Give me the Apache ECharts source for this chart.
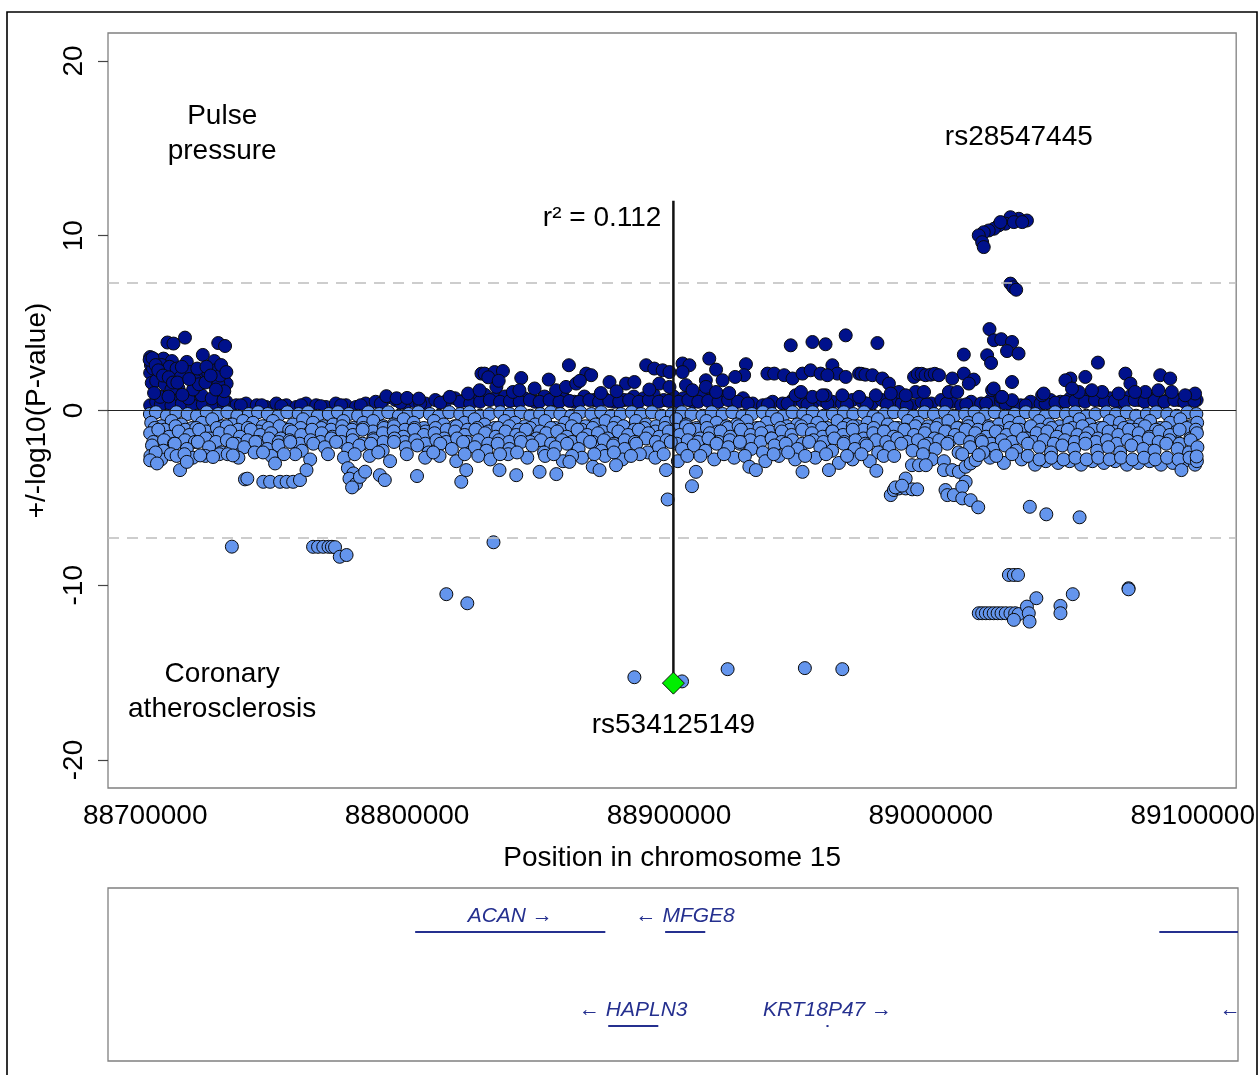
<!DOCTYPE html>
<html><head><meta charset="utf-8">
<script src="https://cdn.jsdelivr.net/npm/echarts@6/dist/echarts.min.js"></script>
<style>html,body{margin:0;padding:0;background:#fff}#c{width:1258px;height:1075px}</style>
</head><body><div id="c"></div>
<script>
// ---------- DATA ----------
// Positions are given in kb from 88,700,000 on chromosome 15, paired with +/-log10(P)
const BASE_BP = 88700000;
const xTickValues = [88700000, 88800000, 88900000, 89000000, 89100000];
const yTickValues = [-20, -10, 0, 10, 20];
const sigLevel = 7.3;

// Pulse pressure (positive side), dense strip just above 0
const pulseBand = [
1.9,0.3, 4.2,0.5, 7.9,0.4, 12.1,0.6, 15.8,0.3, 19.6,0.5, 23.4,0.4, 27.3,0.6, 31.0,0.5, 34.8,0.3,
38.5,0.4, 42.6,0.3, 46.2,0.2, 50.1,0.4, 53.9,0.3, 57.7,0.2, 61.4,0.4, 65.3,0.3, 69.0,0.2, 72.8,0.4,
76.7,0.3, 80.5,0.2, 84.2,0.4, 88.0,0.5, 91.9,0.7, 95.6,0.6, 99.4,0.4, 103.1,0.5, 107.0,0.4, 110.8,0.6,
114.6,0.5, 118.3,0.7, 122.2,0.6, 126.0,0.8, 129.7,0.9, 133.5,0.7, 137.4,0.8, 141.1,0.6, 144.9,0.7, 148.8,0.5,
152.5,0.8, 156.3,0.6, 160.0,0.7, 163.9,0.5, 167.7,0.8, 171.4,0.6, 175.2,0.7, 179.1,0.5, 182.9,0.6, 186.6,0.8,
190.4,0.7, 194.2,0.9, 198.0,0.6, 201.8,0.8, 205.5,0.7, 209.3,0.5, 213.1,0.9, 217.0,0.6, 220.7,0.8, 224.5,0.5,
228.3,0.7, 232.0,0.4, 235.9,0.3, 239.6,0.5, 243.4,0.4, 247.3,0.6, 251.0,0.5, 254.8,0.4, 258.6,0.6, 262.4,0.5,
266.1,0.4, 270.0,0.6, 273.8,0.5, 277.5,0.4, 281.3,0.6, 285.1,0.5, 288.9,0.4, 292.7,0.3, 296.5,0.5, 300.2,0.4,
304.0,0.6, 307.9,0.5, 311.6,0.3, 315.4,0.5, 319.2,0.4, 323.0,0.6, 326.8,0.5, 330.5,0.4, 334.3,0.3, 338.1,0.5,
341.9,0.4, 345.7,0.6, 349.5,0.5, 353.2,0.7, 357.0,0.6, 360.8,0.8, 364.6,0.6, 368.4,0.7, 372.2,0.5, 376.0,0.8,
379.7,0.6, 383.5,0.7, 387.3,0.5, 391.1,0.7, 394.9,0.6, 398.7,0.8, 401.5,0.6
];
const pulseBand2 = [
6.0,0.35, 10.0,0.3, 14.0,0.4, 18.0,0.3, 22.0,0.35, 26.0,0.3, 30.0,0.4, 36.5,0.3, 44.5,0.3, 52.0,0.25,
59.5,0.3, 67.0,0.25, 74.8,0.3, 82.3,0.3, 90.0,0.4, 97.5,0.45, 105.0,0.4, 112.7,0.45, 120.2,0.5, 124.1,0.4,
127.9,0.5, 131.6,0.6, 135.5,0.5, 139.3,0.55, 143.0,0.5, 146.9,0.6, 150.6,0.5, 154.4,0.6, 158.2,0.5, 162.0,0.55,
165.8,0.5, 169.6,0.6, 173.3,0.5, 177.2,0.55, 181.0,0.5, 184.8,0.6, 188.5,0.5, 192.3,0.6, 196.1,0.5, 199.9,0.55,
203.7,0.5, 207.4,0.6, 211.2,0.5, 215.0,0.55, 218.9,0.5, 222.6,0.6, 226.4,0.5, 230.1,0.4, 237.8,0.35, 245.3,0.4,
252.9,0.35, 260.5,0.4, 268.0,0.35, 275.6,0.4, 283.2,0.35, 290.8,0.3, 298.4,0.35, 306.0,0.4, 313.5,0.35, 321.1,0.4,
328.6,0.35, 336.2,0.3, 343.8,0.4, 347.6,0.45, 351.4,0.5, 355.1,0.55, 358.9,0.5, 362.7,0.6, 366.5,0.5, 370.3,0.55,
374.1,0.5, 377.9,0.6, 381.6,0.5, 385.4,0.55, 389.2,0.5, 393.0,0.6, 396.8,0.5, 400.6,0.55
];

// Pulse pressure, points standing out above the strip
const pulseHits = [
15.2,4.17, 8.5,3.89, 10.8,3.83, 27.9,3.86, 30.5,3.69,
1.9,3.06, 3.8,2.91, 7.0,2.97, 10.2,2.83, 15.9,2.78, 22.0,3.18, 26.4,2.83,
1.9,2.15, 5.7,2.11, 8.3,2.2, 11.4,2.11, 2.5,1.58, 17.2,2.2, 21.6,2.11, 24.1,2.11,
19.1,1.73, 25.4,1.73, 29.9,1.83, 31.1,1.54, 27.9,1.54,
5.7,0.78, 12.7,1.26, 16.5,0.69, 21.6,0.87, 25.4,0.69, 29.9,0.59,
2.2,2.6, 3.0,2.4, 6.3,2.6, 9.3,2.5, 12.0,2.4, 13.5,1.9, 4.2,1.7, 7.5,1.5, 10.0,1.2,
18.3,1.2, 20.5,1.5, 23.0,1.6, 26.8,2.3, 28.6,2.0, 30.2,1.1, 14.2,0.9, 8.9,0.8, 3.4,1.0,
1.7,2.9, 2.8,3.0, 4.0,2.6, 5.0,2.3, 6.8,2.0, 9.0,1.9, 10.6,1.6, 12.3,1.6, 14.0,2.5, 16.8,1.8,
19.9,2.4, 23.4,2.5, 25.0,2.0, 27.0,1.2, 29.0,2.6, 31.0,2.2,
92.1,0.82, 96.0,0.7, 100.0,0.72, 104.5,0.68,
116.3,0.78, 123.3,0.97, 127.7,1.16, 134.1,1.35, 140.4,1.06,
128.4,2.11, 129.6,2.11, 133.4,2.2, 136.6,2.26, 131.0,1.9, 135.0,1.7,
143.6,1.86, 142.9,1.16, 148.7,1.26, 154.1,1.77, 156.9,1.16, 160.7,1.35, 164.6,1.54,
161.8,2.59, 168.4,2.11, 170.3,2.02, 166.0,1.7,
177.3,1.63, 183.6,1.54, 186.8,1.63, 180.0,1.1, 174.0,1.0,
191.3,2.59, 194.4,2.4, 197.6,2.3, 200.2,2.2, 196.3,1.54, 200.2,1.35, 192.5,1.2,
205.2,2.69, 207.8,2.59, 205.2,2.2, 206.5,1.45, 209.0,1.16,
215.4,2.97, 218.0,2.34, 214.1,1.73, 220.5,1.73, 214.1,1.35, 218.0,1.06,
229.4,2.65, 228.7,2.02, 225.3,1.92, 223.0,1.0,
237.6,2.11, 240.2,2.11, 244.0,2.02, 247.2,1.83, 251.0,2.11, 254.1,2.3, 257.9,2.11, 262.4,2.59, 264.3,2.11, 267.5,1.92, 260.5,2.02,
246.5,3.73, 254.8,3.92, 259.8,3.79, 267.5,4.3, 279.6,3.86,
248.4,0.87, 254.8,0.78, 259.8,0.87,
272.6,2.11, 273.5,2.1, 275.0,2.05, 277.7,2.02, 281.5,1.83, 284.0,1.54, 287.8,1.06, 294.2,1.06, 297.4,1.06,
293.6,1.92, 295.0,2.1, 296.5,2.1, 298.0,2.02, 300.0,2.05, 301.5,2.1, 303.1,2.02, 308.2,1.83, 312.6,2.11, 316.4,1.77, 314.5,1.54,
312.6,3.2,
250.4,1.06, 258.6,0.87, 266.2,0.87, 272.6,0.78, 279.0,0.87, 284.7,0.97, 290.4,0.87,
306.9,1.06, 310.1,1.06, 323.4,1.16, 326.6,0.78, 331.0,0.59, 342.5,0.87,
336.7,10.87, 333.6,10.97, 330.4,11.06, 328.5,10.69, 325.9,10.59, 324.1,10.4, 322.1,10.3, 320.2,10.2,
318.3,10.02, 319.6,9.63, 320.2,9.35, 326.6,10.78, 331.7,10.78, 334.9,10.78,
330.4,7.26, 331.5,7.05, 332.6,6.91,
322.4,4.66, 324.1,4.02, 326.9,4.08, 331.0,3.92, 329.1,3.4, 333.5,3.26, 321.5,3.16, 323.0,2.72,
331.0,1.63, 324.0,1.26, 327.2,0.78, 343.1,0.97,
353.3,1.83, 359.0,1.92, 351.4,1.73, 363.8,2.74, 374.3,2.11, 376.2,1.54, 387.6,2.02, 391.4,1.83,
400.9,0.97, 397.1,0.87, 392.0,1.06, 386.9,1.16, 381.9,1.06, 378.0,1.06, 371.7,0.97, 365.4,1.06, 361.5,1.16, 356.5,1.06, 353.9,1.26
];

// Coronary atherosclerosis (negative side), dense band below 0
const coronaryBandTop = [
1.8,-0.2, 4.1,-0.1, 8.3,-0.3, 11.9,-0.1, 16.2,-0.2, 19.8,-0.3, 23.5,-0.1, 27.9,-0.2, 31.4,-0.1, 35.2,-0.3,
39.6,-0.2, 43.1,-0.1, 46.8,-0.2, 50.9,-0.3, 54.3,-0.1, 58.6,-0.2, 62.2,-0.1, 65.9,-0.3, 70.1,-0.2, 73.6,-0.1,
77.8,-0.2, 81.3,-0.3, 85.2,-0.1, 89.4,-0.2, 92.8,-0.1, 96.9,-0.3, 100.6,-0.2, 104.3,-0.1, 108.7,-0.2, 112.2,-0.3,
116.1,-0.1, 120.3,-0.2, 123.8,-0.1, 127.9,-0.3, 131.5,-0.2, 135.6,-0.1, 139.2,-0.2, 143.4,-0.1, 147.1,-0.3, 150.8,-0.2,
154.9,-0.1, 158.5,-0.2, 162.7,-0.3, 166.2,-0.1, 170.4,-0.2, 174.1,-0.1, 177.9,-0.3, 181.6,-0.2, 185.8,-0.1, 189.3,-0.2,
193.5,-0.1, 197.2,-0.3, 201.1,-0.2, 204.9,-0.1, 208.6,-0.2, 212.8,-0.3, 216.3,-0.1, 220.5,-0.2, 224.2,-0.1, 228.1,-0.3,
231.7,-0.2, 235.9,-0.1, 239.4,-0.2, 243.6,-0.3, 247.2,-0.1, 251.3,-0.2, 254.9,-0.1, 259.1,-0.3, 262.6,-0.2, 266.8,-0.1,
270.4,-0.2, 274.5,-0.1, 278.1,-0.3, 282.3,-0.2, 285.9,-0.1, 289.8,-0.2, 293.5,-0.3, 297.6,-0.1, 301.2,-0.2, 305.4,-0.1,
308.9,-0.3, 313.1,-0.2, 316.7,-0.1, 320.8,-0.2, 324.4,-0.1, 328.5,-0.3, 332.1,-0.2, 336.3,-0.1, 339.9,-0.2, 343.8,-0.3,
347.5,-0.1, 351.6,-0.2, 355.2,-0.1, 359.4,-0.3, 362.9,-0.2, 367.1,-0.1, 370.7,-0.2, 374.8,-0.1, 378.4,-0.3, 382.5,-0.2,
386.1,-0.1, 390.3,-0.2, 393.9,-0.3, 398.0,-0.1, 401.4,-0.2
];
const coronaryBandMid = [
2.3,-0.7, 6.2,-0.9, 10.1,-0.6, 13.8,-0.8, 18.0,-1.0, 21.7,-0.7, 25.6,-0.5, 29.5,-0.9, 33.3,-0.8, 37.4,-0.6,
41.2,-0.7, 44.9,-0.9, 48.8,-0.6, 52.6,-1.0, 56.4,-0.8, 60.3,-0.5, 64.1,-0.7, 68.0,-0.9, 71.8,-0.8, 75.7,-0.6,
79.5,-1.0, 83.3,-0.7, 87.1,-0.6, 91.0,-0.9, 94.9,-0.8, 98.7,-0.5, 102.5,-0.7, 106.4,-1.0, 110.3,-0.6, 114.0,-0.8,
118.1,-0.9, 121.9,-0.7, 125.8,-0.5, 129.6,-0.8, 133.4,-1.0, 137.3,-0.6, 141.2,-0.7, 145.0,-0.9, 148.9,-0.8, 152.7,-0.6,
156.6,-1.0, 160.4,-0.7, 164.3,-0.5, 168.1,-0.9, 172.0,-0.8, 175.8,-0.6, 179.7,-0.7, 183.5,-1.0, 187.4,-0.6, 191.2,-0.8,
195.1,-0.9, 198.9,-0.7, 202.8,-0.5, 206.6,-0.8, 210.5,-1.0, 214.3,-0.6, 218.2,-0.7, 222.0,-0.9, 225.9,-0.8, 229.7,-0.6,
233.6,-1.0, 237.4,-0.7, 241.3,-0.5, 245.1,-0.9, 249.0,-0.8, 252.8,-0.6, 256.7,-0.7, 260.5,-1.0, 264.4,-0.6, 268.2,-0.8,
272.1,-0.9, 275.9,-0.7, 279.8,-0.5, 283.6,-0.8, 287.5,-1.0, 291.3,-0.6, 295.2,-0.7, 299.0,-0.9, 302.9,-0.8, 306.7,-0.6,
310.6,-1.0, 314.4,-0.7, 318.3,-0.5, 322.1,-0.9, 326.0,-0.8, 329.8,-0.6, 333.7,-0.7, 337.5,-1.0, 341.4,-0.6, 345.2,-0.8,
349.1,-0.9, 352.9,-0.7, 356.8,-0.5, 360.6,-0.8, 364.5,-1.0, 368.3,-0.6, 372.2,-0.7, 376.0,-0.9, 379.9,-0.8, 383.7,-0.6,
387.6,-1.0, 391.4,-0.7, 395.3,-0.5, 399.1,-0.9, 401.7,-0.7
];
const coronaryBandFill1 = [
3.6,-1.0, 7.4,-1.1, 11.6,-0.9, 15.3,-1.1, 19.5,-1.0, 23.2,-1.2, 27.4,-1.0, 31.1,-0.9, 35.5,-1.1, 39.2,-1.0,
43.4,-1.2, 47.1,-1.0, 51.3,-0.9, 55.0,-1.1, 59.4,-1.0, 63.1,-1.2, 67.3,-1.0, 71.0,-1.1, 75.2,-0.9, 79.0,-1.1,
83.3,-1.0, 87.0,-1.2, 91.2,-1.0, 95.0,-0.9, 99.2,-1.1, 102.9,-1.0, 107.1,-1.2, 110.9,-1.0, 115.1,-1.1, 118.9,-0.9,
123.1,-1.1, 126.8,-1.0, 131.0,-1.2, 134.8,-1.0, 139.0,-0.9, 142.8,-1.1, 147.0,-1.0, 150.7,-1.2, 154.9,-1.0, 158.7,-1.1,
162.9,-0.9, 166.7,-1.1, 170.9,-1.0, 174.6,-1.2, 178.8,-1.0, 182.6,-0.9, 186.8,-1.1, 190.6,-1.0, 194.8,-1.2, 198.5,-1.0,
202.7,-1.1, 206.5,-0.9, 210.7,-1.1, 214.5,-1.0, 218.7,-1.2, 222.4,-1.0, 226.6,-0.9, 230.4,-1.1, 234.6,-1.0, 238.4,-1.2,
242.6,-1.0, 246.3,-1.1, 250.5,-0.9, 254.3,-1.1, 258.5,-1.0, 262.3,-1.2, 266.5,-1.0, 270.2,-0.9, 274.4,-1.1, 278.2,-1.0,
282.4,-1.2, 286.2,-1.0, 290.4,-1.1, 294.1,-0.9, 298.3,-1.1, 302.1,-1.0, 306.3,-1.2, 310.1,-1.0, 314.3,-0.9, 318.0,-1.1,
322.2,-1.0, 326.0,-1.2, 330.2,-1.0, 334.0,-1.1, 338.2,-0.9, 341.9,-1.1, 346.1,-1.0, 349.9,-1.2, 354.1,-1.0, 357.9,-0.9,
362.1,-1.1, 365.8,-1.0, 370.0,-1.2, 373.8,-1.0, 378.0,-1.1, 381.8,-0.9, 386.0,-1.1, 389.7,-1.0, 393.9,-1.2, 397.7,-1.0,
401.2,-1.1
];
const coronaryBandLow = [
1.9,-1.3, 5.0,-1.1, 9.1,-1.5, 12.8,-1.2, 16.9,-1.4, 20.6,-1.1, 24.7,-1.6, 28.4,-1.3, 32.5,-1.2, 36.2,-1.5,
40.3,-1.1, 44.0,-1.4, 48.1,-1.3, 51.8,-1.6, 55.9,-1.2, 59.6,-1.4, 63.7,-1.1, 67.4,-1.3, 71.5,-1.5, 75.2,-1.2,
79.3,-1.4, 83.0,-1.1, 87.1,-1.6, 90.8,-1.3, 94.9,-1.2, 98.6,-1.5, 102.7,-1.1, 106.4,-1.4, 110.5,-1.3, 114.2,-1.6,
118.3,-1.2, 122.0,-1.4, 126.1,-1.1, 129.8,-1.3, 133.9,-1.5, 137.6,-1.2, 141.7,-1.4, 145.4,-1.1, 149.5,-1.6, 153.2,-1.3,
157.3,-1.2, 161.0,-1.5, 165.1,-1.1, 168.8,-1.4, 172.9,-1.3, 176.6,-1.6, 180.7,-1.2, 184.4,-1.4, 188.5,-1.1, 192.2,-1.3,
196.3,-1.5, 200.0,-1.2, 204.1,-1.4, 207.8,-1.1, 211.9,-1.6, 215.6,-1.3, 219.7,-1.2, 223.4,-1.5, 227.5,-1.1, 231.2,-1.4,
235.3,-1.3, 239.0,-1.6, 243.1,-1.2, 246.8,-1.4, 250.9,-1.1, 254.6,-1.3, 258.7,-1.5, 262.4,-1.2, 266.5,-1.4, 270.2,-1.1,
274.3,-1.6, 278.0,-1.3, 282.1,-1.2, 285.8,-1.5, 289.9,-1.1, 293.6,-1.4, 297.7,-1.3, 301.4,-1.6, 305.5,-1.2, 309.2,-1.4,
313.3,-1.1, 317.0,-1.3, 321.1,-1.5, 324.8,-1.2, 328.9,-1.4, 332.6,-1.1, 336.7,-1.6, 340.4,-1.3, 344.5,-1.2, 348.2,-1.5,
352.3,-1.1, 356.0,-1.4, 360.1,-1.3, 363.8,-1.6, 367.9,-1.2, 371.6,-1.4, 375.7,-1.1, 379.4,-1.3, 383.5,-1.5, 387.2,-1.2,
391.3,-1.4, 395.0,-1.1, 399.1,-1.6, 401.6,-1.3
];
const coronaryBandFill2 = [
3.1,-1.8, 7.2,-1.7, 11.0,-1.9, 15.2,-1.7, 19.0,-1.8, 23.1,-1.6, 27.0,-1.8, 31.2,-1.7, 35.0,-1.9, 39.1,-1.7,
43.0,-1.8, 47.2,-1.6, 51.0,-1.8, 55.1,-1.7, 59.0,-1.9, 63.2,-1.7, 67.0,-1.8, 71.1,-1.6, 75.0,-1.8, 79.2,-1.7,
83.0,-1.9, 87.1,-1.7, 91.0,-1.8, 95.2,-1.6, 99.0,-1.8, 103.1,-1.7, 107.0,-1.9, 111.2,-1.7, 115.0,-1.8, 119.1,-1.6,
123.0,-1.8, 127.2,-1.7, 131.0,-1.9, 135.1,-1.7, 139.0,-1.8, 143.2,-1.6, 147.0,-1.8, 151.1,-1.7, 155.0,-1.9, 159.2,-1.7,
163.0,-1.8, 167.1,-1.6, 171.0,-1.8, 175.2,-1.7, 179.0,-1.9, 183.1,-1.7, 187.0,-1.8, 191.2,-1.6, 195.0,-1.8, 199.1,-1.7,
203.0,-1.9, 207.2,-1.7, 211.0,-1.8, 215.1,-1.6, 219.0,-1.8, 223.2,-1.7, 227.0,-1.9, 231.1,-1.7, 235.0,-1.8, 239.2,-1.6,
243.0,-1.8, 247.1,-1.7, 251.0,-1.9, 255.2,-1.7, 259.0,-1.8, 263.1,-1.6, 267.0,-1.8, 271.2,-1.7, 275.0,-1.9, 279.1,-1.7,
283.0,-1.8, 287.2,-1.6, 291.0,-1.8, 295.1,-1.7, 299.0,-1.9, 303.2,-1.7, 307.0,-1.8, 311.1,-1.6, 315.0,-1.8, 319.2,-1.7,
323.0,-1.9, 327.1,-1.7, 331.0,-1.8, 335.2,-1.6, 339.0,-1.8, 343.1,-1.7, 347.0,-1.9, 351.2,-1.7, 355.0,-1.8, 359.1,-1.6,
363.0,-1.8, 367.2,-1.7, 371.0,-1.9, 375.1,-1.7, 379.0,-1.8, 383.2,-1.6, 387.0,-1.8, 391.1,-1.7, 395.0,-1.9, 399.2,-1.7
];
const coronaryBandDeep = [
2.6,-2.0, 7.0,-2.3, 11.3,-1.9, 15.9,-2.2, 20.1,-1.8, 24.4,-2.1, 29.0,-2.4, 33.4,-1.9, 37.8,-2.1, 42.1,-1.8,
46.6,-2.2, 50.9,-2.0, 55.4,-1.8, 59.8,-2.3, 64.2,-1.9, 68.6,-2.1, 72.9,-1.8, 77.5,-2.2, 81.8,-2.0, 86.2,-1.9,
90.7,-2.3, 95.0,-1.8, 99.5,-2.1, 103.9,-2.0, 108.2,-2.4, 112.7,-1.9, 117.1,-2.2, 121.4,-1.8, 125.9,-2.1, 130.3,-2.3,
134.6,-1.9, 139.1,-2.2, 143.5,-1.8, 147.8,-2.0, 152.3,-2.4, 156.7,-2.1, 161.1,-1.9, 165.5,-2.2, 169.9,-1.8, 174.2,-2.3,
178.7,-2.0, 183.1,-2.2, 187.5,-1.9, 191.9,-2.4, 196.2,-2.1, 200.7,-1.8, 205.0,-2.2, 209.5,-2.0, 213.9,-2.3, 218.2,-1.9,
222.7,-2.1, 227.1,-1.8, 231.4,-2.2, 235.9,-2.4, 240.3,-2.0, 244.6,-1.9, 249.1,-2.2, 253.5,-1.8, 257.8,-2.1, 262.3,-2.3,
266.7,-1.9, 271.0,-2.2, 275.5,-2.0, 279.9,-2.4, 284.2,-2.1, 288.7,-1.9, 293.0,-2.3, 297.5,-2.0, 301.8,-2.2, 306.3,-1.9,
310.6,-2.4, 315.0,-2.1, 319.5,-1.8, 323.8,-2.2, 328.3,-2.0, 332.6,-2.3, 337.1,-1.9, 341.4,-2.1, 345.9,-2.4, 350.2,-2.0,
354.7,-2.2, 359.0,-1.9, 363.5,-2.3, 367.8,-2.1, 372.3,-2.4, 376.6,-2.0, 381.1,-2.2, 385.4,-2.3, 389.9,-1.9, 394.2,-2.2,
398.6,-2.4, 401.8,-2.1
];
const coronaryBandEdge = [
2.0,-2.6, 6.1,-2.8, 9.8,-2.5, 18.2,-2.7, 23.0,-2.6, 28.3,-2.5, 35.6,-2.7, 41.8,-2.4, 48.2,-2.6, 57.3,-2.5,
63.0,-2.8, 69.8,-2.5, 75.9,-2.7, 85.7,-2.6, 93.5,-2.9, 99.9,-2.5, 106.9,-2.7, 112.4,-2.6, 118.8,-2.9, 127.2,-2.6,
131.8,-2.8, 138.6,-2.5, 145.9,-2.7, 152.7,-2.6, 159.5,-2.9, 166.8,-2.7, 175.6,-2.6, 182.2,-2.8, 188.9,-2.5, 194.8,-2.7,
203.4,-2.9, 212.0,-2.6, 217.3,-2.8, 224.9,-2.7, 236.8,-2.9, 242.0,-2.6, 248.2,-2.8, 255.9,-2.7, 264.9,-3.0, 270.1,-2.8,
276.7,-2.9, 282.0,-2.6, 300.4,-2.8, 305.0,-2.9, 322.6,-2.7, 327.9,-3.0, 334.7,-2.8, 339.8,-3.1, 343.9,-2.9, 348.6,-3.0,
353.0,-2.9, 357.4,-3.1, 361.7,-2.9, 366.1,-3.0, 370.4,-2.9, 374.9,-3.1, 379.2,-3.0, 383.6,-2.9, 387.9,-3.1, 392.4,-3.0,
396.8,-2.9, 400.9,-3.1,
4.0,-2.4, 12.0,-2.6, 15.0,-2.5, 31.5,-2.5, 45.0,-2.4, 53.0,-2.5, 80.0,-2.5, 89.0,-2.4, 110.0,-2.4, 122.0,-2.5,
135.5,-2.5, 142.0,-2.4, 156.0,-2.5, 163.0,-2.6, 171.5,-2.5, 179.0,-2.4, 185.5,-2.6, 198.0,-2.5, 207.0,-2.6, 221.0,-2.5,
229.0,-2.6, 240.0,-2.5, 245.5,-2.4, 252.0,-2.6, 260.0,-2.5, 268.0,-2.6, 273.5,-2.5, 286.0,-2.6, 297.0,-2.5, 312.0,-2.5,
320.0,-2.4, 325.0,-2.6, 331.0,-2.5, 337.0,-2.6, 341.5,-2.8, 346.0,-2.7, 350.7,-2.8, 355.2,-2.7, 359.5,-2.8, 363.9,-2.7,
368.3,-2.8, 372.6,-2.7, 377.0,-2.8, 381.4,-2.7, 385.7,-2.8, 390.2,-2.7, 394.6,-2.8, 398.8,-2.7, 401.6,-2.9
];
const coronaryHits = [
1.9,-2.85, 4.5,-3.03, 13.3,-3.41, 15.9,-2.94, 21.0,-2.57, 25.9,-2.66, 33.5,-2.57,
38.1,-3.94, 39.0,-3.9, 45.1,-4.08, 47.7,-4.08, 51.5,-4.08, 54.0,-4.08, 56.5,-4.08, 59.1,-3.98, 61.6,-3.41, 49.6,-3.03,
33.1,-7.79, 64.1,-7.8, 66.0,-7.8, 68.0,-7.8, 70.0,-7.8, 71.3,-7.8, 72.5,-7.82, 74.3,-8.37, 76.9,-8.27,
77.4,-3.3, 79.5,-3.6, 78.0,-3.9, 80.5,-4.2, 82.0,-3.8, 84.0,-3.5, 79.0,-4.4,
89.6,-3.7, 91.5,-3.98, 103.8,-3.75,
120.7,-4.08, 122.6,-3.41, 135.3,-3.41, 141.7,-3.7, 150.6,-3.51, 157.0,-3.64, 162.0,-2.94,
170.9,-3.22, 173.5,-3.41, 179.8,-3.13, 198.9,-3.41, 199.5,-5.09, 208.8,-4.33, 210.3,-3.51,
115.0,-10.51, 123.0,-11.03, 133.0,-7.54,
186.8,-15.26, 205.0,-15.5, 222.4,-14.8, 251.9,-14.74, 266.2,-14.8,
230.7,-3.22, 233.2,-3.41, 251.0,-3.51, 261.1,-3.41, 279.2,-3.45,
284.7,-4.84, 285.9,-4.55, 287.8,-4.46, 290.4,-4.46, 292.9,-4.51, 294.8,-4.51, 290.4,-3.89, 286.5,-4.4, 289.0,-4.3,
292.8,-3.13, 295.5,-3.13, 298.1,-3.13,
305.6,-4.55, 306.3,-4.84, 308.8,-4.84,
305.0,-3.41, 308.2,-3.41, 310.7,-3.51, 313.3,-3.22, 315.2,-3.03, 317.1,-2.84, 318.3,-2.55, 313.3,-4.08, 312.0,-4.37,
312.0,-5.03, 315.2,-5.13, 318.1,-5.54,
337.8,-5.51, 344.1,-5.94, 356.8,-6.11,
329.8,-9.41, 331.7,-9.41, 333.3,-9.41,
318.3,-11.6, 319.6,-11.6, 321.0,-11.6, 322.5,-11.6, 324.0,-11.6, 325.5,-11.6, 327.0,-11.6, 328.6,-11.6,
330.4,-11.6, 332.2,-11.6, 333.5,-11.65, 331.7,-11.98,
336.7,-11.22, 337.4,-11.6, 337.7,-12.08, 340.3,-10.74,
349.5,-11.18, 349.5,-11.6, 354.2,-10.51, 375.5,-10.17, 375.5,-10.23,
395.7,-3.41, 401.5,-2.63
];

// Lead SNP (rs534125149) and its r^2 line
const leadPosKb = 201.7;
const leadValue = -15.6;
const leadLineTop = 12.0;

// Text annotations: label, position (kb), value
const annotationText = ['Pulse\npressure', 'Coronary\natherosclerosis', 'rs28547445', 'r\u00b2 = 0.112', 'rs534125149'];
const annotationPosKb = [29.4, 29.4, 333.6, 201.7, 201.7];
const annotationValue = [15.86, -16.1, 15.62, 11.0, -18.0];

// Genes: start, end (bp), track row (1 = upper, 2 = lower), label
const geneLabels = ['ACAN \u2192', '\u2190 MFGE8', '', '\u2190 HAPLN3', 'KRT18P47 \u2192', '\u2190'];
const geneStarts = [88802900, 88898200, 89086600, 88876500, 88959700, 89113600];
const geneEnds   = [88875400, 88913500, 89250000, 88895600, 88960500, 89113600];
const geneRows   = [1, 1, 1, 2, 2, 2];

// ---------- BUILD ----------
const X_MIN = 88685800, X_MAX = 89116600;
function toPoints(flat) {
  const out = [];
  for (let i = 0; i < flat.length; i += 2) out.push([BASE_BP + flat[i] * 1000, flat[i + 1]]);
  return out;
}
const pulsePoints = toPoints(pulseBand).concat(toPoints(pulseBand2), toPoints(pulseHits));
const coronaryPoints = toPoints(coronaryBandTop).concat(toPoints(coronaryBandMid), toPoints(coronaryBandFill1),
  toPoints(coronaryBandLow), toPoints(coronaryBandFill2), toPoints(coronaryBandDeep),
  toPoints(coronaryBandEdge), toPoints(coronaryHits));
const leadPos = BASE_BP + leadPosKb * 1000;

const FONT = "'Liberation Sans', Arial, Helvetica, sans-serif";
const DARK = '#00118c', LIGHT = '#6495ED';
const annPlacement = ['inside', 'inside', 'inside', 'left', 'inside'];
const annotationData = annotationText.map((t, i) => ({
  value: [BASE_BP + annotationPosKb[i] * 1000, annotationValue[i]],
  label: { show: true, formatter: t, position: annPlacement[i], distance: 12, opacity: 1,
    textBorderWidth: 0, fontFamily: FONT, fontSize: 28, color: '#000', lineHeight: 35,
    align: annPlacement[i] === 'left' ? 'right' : 'center' }
}));
const geneData = geneLabels.map((l, i) => [geneStarts[i], geneEnds[i], geneRows[i]]);
const ROW_Y = { 1: 0.746, 2: 0.202 };
const GENE_COLOR = '#25308f';

const chart = echarts.init(document.getElementById('c'), null, { renderer: 'canvas' });
const pointStyle = (c) => ({ color: c, borderColor: '#0a0a0a', borderWidth: 1, opacity: 1 });

chart.setOption({
  animation: false,
  backgroundColor: '#fff',
  textStyle: { fontFamily: FONT },
  graphic: [{ type: 'rect', silent: true, z: 100,
    shape: { x: 7, y: 12, width: 1250, height: 1080 },
    style: { fill: 'none', stroke: '#000', lineWidth: 1.6 } }],
  grid: [
    { left: 108, top: 33, width: 1130, height: 755, show: true, borderColor: '#808080', borderWidth: 1.3, backgroundColor: 'transparent' },
    { left: 108, top: 888, width: 1130, height: 173, show: true, borderColor: '#808080', borderWidth: 1.3, backgroundColor: 'transparent' }
  ],
  xAxis: [
    { type: 'value', gridIndex: 0, min: X_MIN, max: X_MAX,
      axisLine: { show: false }, splitLine: { show: false },
      axisTick: { show: true, length: 10, customValues: xTickValues, lineStyle: { color: '#444', width: 1.2 } },
      axisLabel: { customValues: xTickValues, formatter: v => String(v), margin: 14, fontSize: 28, color: '#000', fontFamily: FONT },
      name: 'Position in chromosome 15', nameLocation: 'middle', nameGap: 56,
      nameTextStyle: { fontSize: 28, color: '#000', fontFamily: FONT } },
    { type: 'value', gridIndex: 1, min: X_MIN, max: X_MAX, show: false }
  ],
  yAxis: [
    { type: 'value', gridIndex: 0, min: -21.6, max: 21.6,
      axisLine: { show: false }, splitLine: { show: false },
      axisTick: { show: true, length: 10, customValues: yTickValues, lineStyle: { color: '#444', width: 1.2 } },
      axisLabel: { customValues: yTickValues, formatter: v => String(v), rotate: 90, margin: 20, fontSize: 28, color: '#000', fontFamily: FONT },
      name: '+/-log10(P-value)', nameLocation: 'middle', nameGap: 57,
      nameTextStyle: { fontSize: 28, color: '#000', fontFamily: FONT } },
    { type: 'value', gridIndex: 1, min: 0, max: 1, show: false }
  ],
  series: [
    { type: 'line', xAxisIndex: 0, yAxisIndex: 0, data: [], z: 1, silent: true,
      markLine: { silent: true, symbol: 'none', label: { show: false }, animation: false,
        data: [
          { yAxis: sigLevel, lineStyle: { color: '#bdbdbd', width: 1.6, type: [11, 8] } },
          { yAxis: -sigLevel, lineStyle: { color: '#bdbdbd', width: 1.6, type: [11, 8] } },
          { yAxis: 0, lineStyle: { color: '#222', width: 1.2, type: 'solid' } }
        ] } },
    { name: 'Pulse pressure', type: 'scatter', xAxisIndex: 0, yAxisIndex: 0, z: 2,
      symbol: 'circle', symbolSize: 13, data: pulsePoints, itemStyle: pointStyle(DARK) },
    { name: 'Coronary atherosclerosis', type: 'scatter', xAxisIndex: 0, yAxisIndex: 0, z: 3,
      symbol: 'circle', symbolSize: 13, data: coronaryPoints, itemStyle: pointStyle(LIGHT) },
    { type: 'line', xAxisIndex: 0, yAxisIndex: 0, z: 5, symbol: 'none',
      data: [[leadPos, leadLineTop], [leadPos, leadValue]], lineStyle: { color: '#111', width: 2.5 } },
    { type: 'scatter', xAxisIndex: 0, yAxisIndex: 0, z: 6, symbol: 'diamond', symbolSize: 22,
      data: [[leadPos, leadValue]], itemStyle: { color: '#00ee00', borderColor: '#111', borderWidth: 1, opacity: 1 } },
    { type: 'scatter', xAxisIndex: 0, yAxisIndex: 0, z: 7, symbolSize: 0, silent: true,
      data: annotationData, itemStyle: { color: '#000', opacity: 1 } },
    { type: 'custom', xAxisIndex: 1, yAxisIndex: 1, z: 2, clip: true, data: geneData,
      renderItem: function (params, api) {
        const s = api.value(0), e = api.value(1), row = api.value(2);
        const label = geneLabels[params.dataIndex];
        const y = ROW_Y[row];
        const p1 = api.coord([Math.max(s, X_MIN), y]);
        const p2 = api.coord([Math.min(e, X_MAX), y]);
        const children = [];
        if (e > s) children.push({ type: 'line', shape: { x1: p1[0], y1: p1[1], x2: p2[0], y2: p2[1] },
          style: { stroke: GENE_COLOR, lineWidth: 2 } });
        if (label) {
          const mid = api.coord([(s + e) / 2, y]);
          children.push({ type: 'text', x: mid[0], y: mid[1] - 16,
            style: { text: label, align: 'center', verticalAlign: 'middle', fill: GENE_COLOR,
              font: 'italic 21px ' + FONT } });
        }
        return { type: 'group', children: children };
      } }
  ]
});
</script></body></html>
